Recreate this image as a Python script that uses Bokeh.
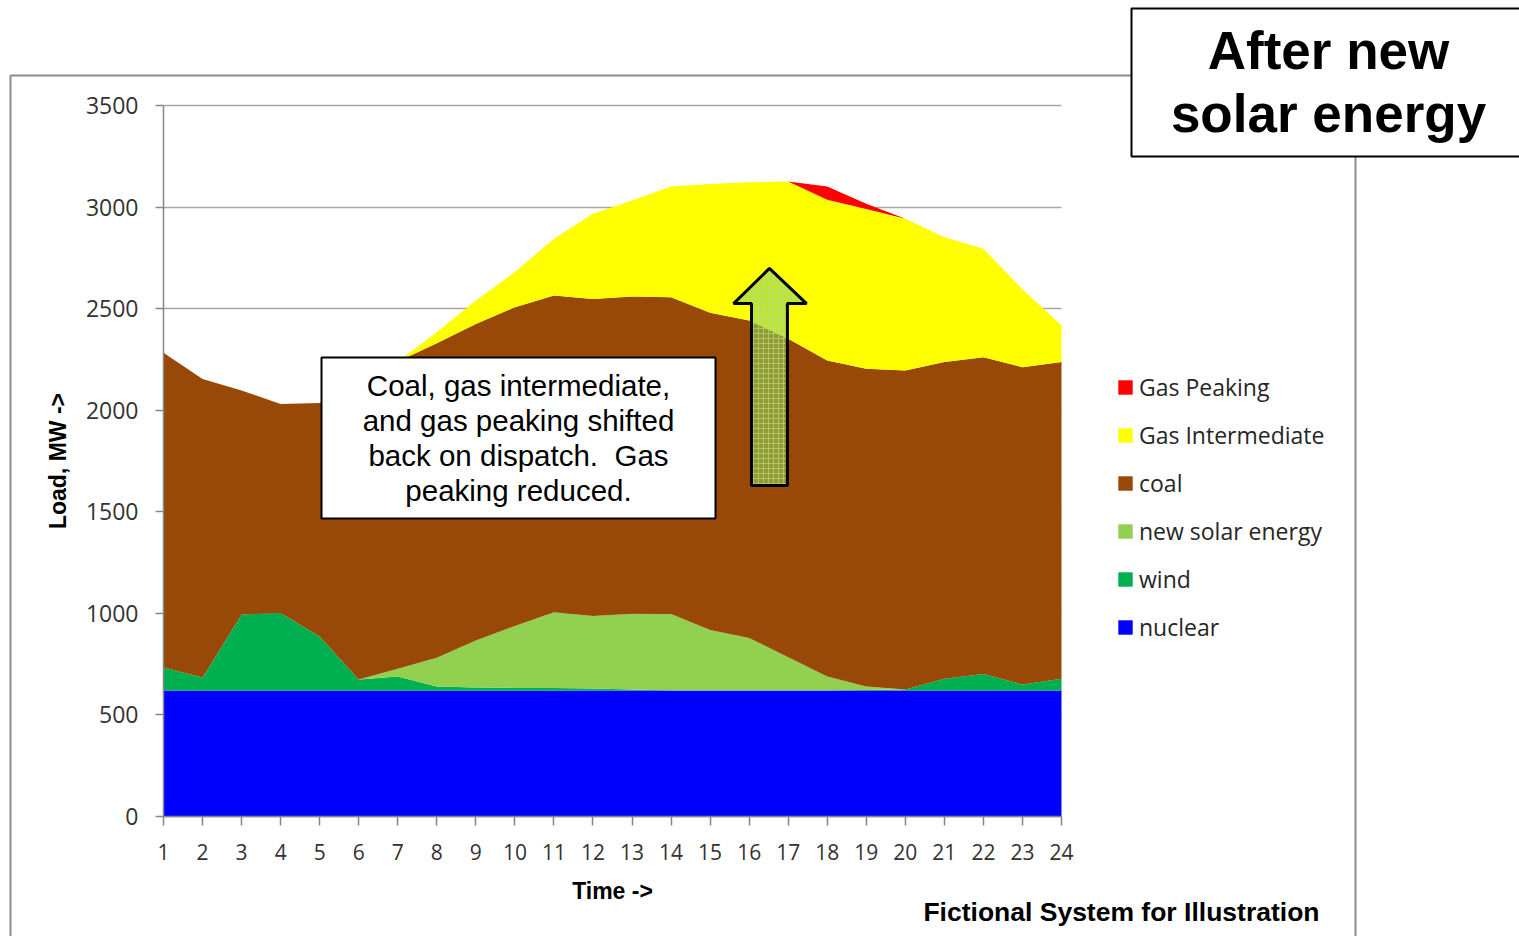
from bokeh.plotting import figure
from bokeh.models import (Range1d, FixedTicker, Legend, LegendItem, Label,
                          BoxAnnotation, PolyAnnotation, ColumnDataSource)
from bokeh.embed import file_html
from bokeh.resources import INLINE

# ---- data (MW per hour) ----
hours = [1, 2, 3, 4, 5, 6, 7, 8, 9, 10, 11, 12, 13, 14, 15, 16, 17, 18, 19, 20, 21, 22, 23, 24]
nuclear = [620, 620, 620, 620, 620, 620, 620, 620, 620, 620, 620, 620,
           620, 620, 620, 620, 620, 620, 620, 620, 620, 620, 620, 620]
wind = [113, 64, 374, 382, 266, 54, 69, 20, 15, 13, 12, 10,
        5, 0, 0, 0, 0, 0, 3, 5, 58, 82, 30, 58]
solar = [0, 0, 0, 0, 0, 0, 38, 141, 231, 305, 373, 357,
         373, 377, 298, 259, 164, 69, 17, 0, 0, 0, 0, 0]
coal = [1550, 1470, 1103, 1028, 1150, 1456, 1513, 1549, 1559, 1569, 1560, 1561,
        1562, 1559, 1562, 1563, 1568, 1556, 1564, 1571, 1559, 1559, 1562, 1559]
gas_int = [0, 0, 0, 0, 0, 0, 0, 54, 115, 173, 279, 419,
           472, 545, 634, 680, 774, 791, 787, 746, 615, 534, 383, 180]
gas_peak = [0, 0, 0, 0, 0, 0, 0, 0, 0, 0, 0, 0,
            0, 0, 0, 0, 0, 65, 25, 0, 0, 0, 0, 0]

series_keys = ["nuclear", "wind", "solar", "coal", "gas_int", "gas_peak"]
series_labels = ["nuclear", "wind", "new solar energy", "coal", "Gas Intermediate", "Gas Peaking"]
series_colors = ["#0000ff", "#00b050", "#92d050", "#984807", "#ffff00", "#ff0000"]
y_ticks = [0, 500, 1000, 1500, 2000, 2500, 3000, 3500]

source = ColumnDataSource(dict(hour=hours, nuclear=nuclear, wind=wind, solar=solar,
                               coal=coal, gas_int=gas_int, gas_peak=gas_peak))

# ---- canvas geometry: the plotting area spans the whole canvas, the axes are
#      pinned (fixed_location) so that hour 1..24 -> px 163..1061, 0..3500 MW -> px 816..105
W, H = 1519, 936
PX_L, PX_R, PX_T, PX_B = 163, 1061, 105, 816
X0, X1, Y0, Y1 = 1, 24, 0, 3500
kx = (PX_R - PX_L) / (X1 - X0)
ky = (PX_B - PX_T) / (Y1 - Y0)
x_range = Range1d(X0 - PX_L / kx, X1 + (W - PX_R) / kx)
y_range = Range1d(Y0 - (H - PX_B) / ky, Y1 + PX_T / ky)

p = figure(width=W, height=H, x_range=x_range, y_range=y_range,
           output_backend="svg", toolbar_location=None,
           min_border_left=0, min_border_right=0, min_border_top=0, min_border_bottom=0)
p.outline_line_color = None
p.background_fill_color = "white"
p.border_fill_color = "white"

renderers = p.varea_stack(series_keys, x="hour", color=series_colors, source=source)

# ---- axes ----
AX_GRAY = "#868686"
p.xgrid.grid_line_color = None
p.ygrid.grid_line_color = "#a6a6a6"
p.ygrid.grid_line_width = 1.5
if "cross_bounds" in p.ygrid[0].properties():
    p.ygrid.cross_bounds = (X0, X1)
else:
    for l, r in [(0, PX_L), (PX_R, W)]:
        p.add_layout(BoxAnnotation(left=l, right=r, top=0, bottom=H,
                                   left_units="canvas", right_units="canvas",
                                   top_units="canvas", bottom_units="canvas",
                                   fill_color="white", fill_alpha=1, line_color=None,
                                   level="underlay"))

p.yaxis.fixed_location = X0
p.yaxis.bounds = (Y0, Y1)
p.yaxis.ticker = FixedTicker(ticks=y_ticks)
p.yaxis.axis_line_color = AX_GRAY
p.yaxis.axis_line_width = 1.5
p.yaxis.major_tick_line_color = AX_GRAY
p.yaxis.major_tick_line_width = 1.5
p.yaxis.major_tick_out = 8
p.yaxis.major_tick_in = 0
p.yaxis.minor_tick_line_color = None
p.yaxis.major_label_text_font = "Open Sans"
p.yaxis.major_label_text_font_size = "23px"
p.yaxis.major_label_text_color = "#333333"
p.yaxis.major_label_standoff = 17
p.yaxis.axis_label = "Load, MW ->"
p.yaxis.axis_label_text_font = "Liberation Sans"
p.yaxis.axis_label_text_font_style = "bold"
p.yaxis.axis_label_text_font_size = "23px"
p.yaxis.axis_label_text_color = "black"
p.yaxis.axis_label_standoff = 12

p.xaxis.fixed_location = Y0
p.xaxis.bounds = (X0, X1)
p.xaxis.ticker = FixedTicker(ticks=hours)
p.xaxis.axis_line_color = AX_GRAY
p.xaxis.axis_line_width = 1.5
p.xaxis.major_tick_line_color = AX_GRAY
p.xaxis.major_tick_line_width = 1.5
p.xaxis.major_tick_out = 9
p.xaxis.major_tick_in = 0
p.xaxis.minor_tick_line_color = None
p.xaxis.major_label_text_font = "Open Sans"
p.xaxis.major_label_text_font_size = "21px"
p.xaxis.major_label_text_color = "#333333"
p.xaxis.major_label_standoff = 18
p.xaxis.axis_label = "Time ->"
p.xaxis.axis_label_text_font = "Liberation Sans"
p.xaxis.axis_label_text_font_style = "bold"
p.xaxis.axis_label_text_font_size = "23px"
p.xaxis.axis_label_text_color = "black"
p.xaxis.axis_label_standoff = 15

# ---- outer frame (chart area border) ----
p.add_layout(BoxAnnotation(left=10, right=1355, top=75, bottom=980,
                           left_units="canvas", right_units="canvas",
                           top_units="canvas", bottom_units="canvas",
                           fill_alpha=0, line_color="#8c8c8c", line_alpha=1, line_width=2))

# ---- legend ----
items = [LegendItem(label=lab, renderers=[r]) for lab, r in zip(series_labels, renderers)][::-1]
legend = Legend(items=items, location=(1116, 293), orientation="vertical",
                glyph_width=18, glyph_height=18, label_height=32, spacing=16,
                label_standoff=5, padding=0, margin=0,
                border_line_color=None, background_fill_alpha=0,
                label_text_font="Open Sans", label_text_font_size="23px",
                label_text_color="#262626")
p.add_layout(legend, "center")

# ---- title box ----
p.add_layout(BoxAnnotation(left=1131, right=1560, top=8, bottom=156,
                           left_units="canvas", right_units="canvas",
                           top_units="canvas", bottom_units="canvas",
                           fill_color="white", fill_alpha=1,
                           line_color="black", line_alpha=1, line_width=2))
for txt, yb in [("After new", 50), ("solar energy", 113)]:
    p.add_layout(Label(x=1328, y=yb, x_units="canvas", y_units="canvas", text=txt,
                       text_align="center", text_baseline="alphabetic",
                       text_font="Liberation Sans", text_font_style="bold",
                       text_font_size="53px", text_color="black"))

# ---- callout text box ----
p.add_layout(BoxAnnotation(left=321, right=715, top=357, bottom=518,
                           left_units="canvas", right_units="canvas",
                           top_units="canvas", bottom_units="canvas",
                           fill_color="white", fill_alpha=1,
                           line_color="black", line_alpha=1, line_width=2))
callout = ["Coal, gas intermediate,", "and gas peaking shifted",
           "back on dispatch.\u00a0 Gas", "peaking reduced."]
for i, txt in enumerate(callout):
    p.add_layout(Label(x=518, y=385 + 35 * i, x_units="canvas", y_units="canvas",
                       text=txt, text_align="center", text_baseline="alphabetic",
                       text_font="Liberation Sans", text_font_size="29.5px",
                       text_color="black"))

# ---- block arrow ----
p.add_layout(PolyAnnotation(
    xs=[16.06, 16.98, 16.98, 17.47, 16.52, 15.60, 16.06],
    ys=[1630, 1630, 2525, 2525, 2698, 2525, 2525],
    fill_color="#92d050", fill_alpha=0.6,
    hatch_pattern="+", hatch_color="#b5e08a", hatch_alpha=0.6,
    hatch_scale=5, hatch_weight=1,
    line_color="black", line_alpha=1, line_width=3))

# ---- footer ----
p.add_layout(Label(x=1319, y=911, x_units="canvas", y_units="canvas",
                   text="Fictional System for Illustration", text_align="right",
                   text_baseline="alphabetic", text_font="Liberation Sans",
                   text_font_style="bold", text_font_size="26.5px", text_color="black"))

open("out.html", "w").write(file_html(p, INLINE))
